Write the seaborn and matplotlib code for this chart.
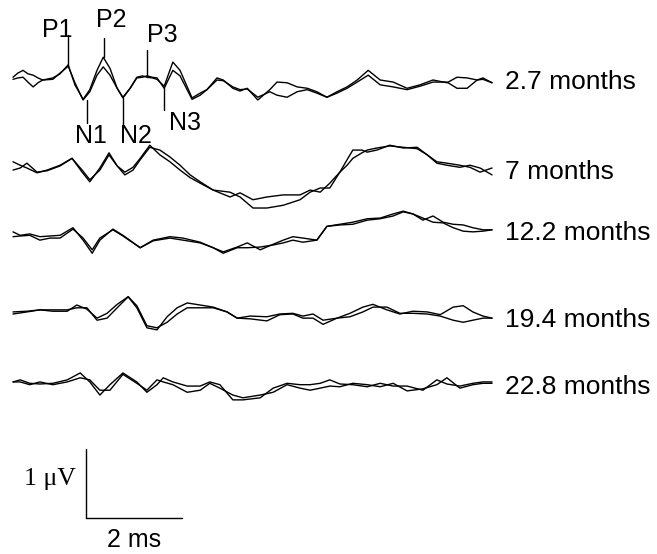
import numpy as np
import pandas as pd
import matplotlib
matplotlib.use("Agg")
import matplotlib.pyplot as plt
import seaborn as sns

# ---------------- data (time in ms, amplitude in µV) ----------------
labels = ["2.7 months", "7 months", "12.2 months", "19.4 months", "22.8 months"]

t1 = [0, 0.1, 0.21, 0.31, 0.42, 0.52, 0.62, 0.83, 0.98, 1.15, 1.29, 1.46, 1.6, 1.75, 1.88, 2.02,
      2.17, 2.29, 2.44, 2.58, 2.7, 2.79, 2.9, 3.0, 3.15, 3.33, 3.48, 3.73, 3.9, 4.04, 4.25, 4.38,
      4.58, 4.73, 4.88, 5.1, 5.35, 5.5, 5.71, 5.92, 6.13, 6.33, 6.54, 6.75, 6.96, 7.17, 7.4, 7.65,
      7.92, 8.21, 8.48, 8.75, 9.04, 9.25, 9.46, 9.67, 9.79, 9.98]
a1 = [0.04, 0.10, 0.14, 0.09, 0.07, 0.03, 0, 0.03, 0.09, 0.22, -0.07, -0.28, -0.14, 0.14, 0.33, 0.17,
      -0.12, -0.26, -0.12, 0.04, 0.06, 0.04, 0.03, 0.01, -0.09, 0.26, 0.14, -0.26, -0.19, -0.14, 0.03, 0,
      -0.12, -0.16, -0.12, -0.29, -0.14, -0.03, -0.04, -0.10, -0.12, -0.17, -0.25, -0.17, -0.10, 0, 0.14, 0,
      -0.03, -0.12, -0.07, 0, -0.04, 0.04, 0.03, 0, 0.03, -0.04]
b1 = [0.01, 0.03, 0.04, -0.03, -0.10, -0.04, 0, 0.01, 0.10, 0.20, -0.04, -0.29, -0.17, 0.07, 0.19, 0.07,
      -0.12, -0.25, -0.12, 0.03, 0.04, 0.06, 0.04, 0.03, -0.12, 0.14, 0.06, -0.28, -0.22, -0.14, 0, -0.01,
      -0.10, -0.14, -0.13, -0.25, -0.17, -0.22, -0.25, -0.17, -0.14, -0.19, -0.25, -0.19, -0.12, -0.03, 0.07, -0.07,
      -0.10, -0.14, -0.09, -0.03, -0.03, -0.12, -0.12, 0, 0.01, -0.04]

t2 = [0, 0.15, 0.29, 0.5, 0.71, 0.98, 1.23, 1.44, 1.6, 1.81, 2.0, 2.17, 2.33, 2.5, 2.65, 2.85,
      3.06, 3.27, 3.48, 3.69, 3.9, 4.17, 4.52, 4.73, 5.0, 5.29, 5.63, 5.98, 6.19, 6.4, 6.6, 6.81,
      6.96, 7.08, 7.27, 7.38, 7.58, 7.85, 8.13, 8.42, 8.63, 8.83, 9.04, 9.31, 9.52, 9.73, 9.98]
a2 = [0.09, 0.04, 0, -0.07, -0.03, 0.04, 0.14, -0.06, -0.20, 0, 0.22, 0.03, -0.06, 0.01, 0.14, 0.33,
      0.19, 0.09, -0.03, -0.14, -0.22, -0.32, -0.42, -0.36, -0.46, -0.42, -0.39, -0.39, -0.32, -0.35, -0.22, -0.06,
      0.12, 0.26, 0.26, 0.23, 0.26, 0.33, 0.29, 0.30, 0.19, 0.09, 0.07, 0.04, 0.01, -0.06, 0]
b2 = [-0.03, 0, 0.07, -0.06, -0.04, 0.03, 0.14, -0.03, -0.17, -0.03, 0.19, 0.03, -0.10, -0.03, 0.12, 0.30,
      0.26, 0.16, 0.04, -0.10, -0.20, -0.32, -0.35, -0.42, -0.58, -0.58, -0.54, -0.46, -0.35, -0.29, -0.29, -0.06,
      0.04, 0.14, 0.22, 0.26, 0.29, 0.32, 0.30, 0.28, 0.19, 0.07, 0.04, 0.01, 0.04, 0, -0.10]

t3 = [0, 0.15, 0.35, 0.56, 0.77, 0.98, 1.25, 1.46, 1.65, 1.81, 2.08, 2.29, 2.65, 2.92, 3.27, 3.54,
      3.9, 4.17, 4.38, 4.67, 4.88, 5.15, 5.42, 5.63, 5.83, 6.04, 6.33, 6.54, 6.81, 7.08, 7.38, 7.65,
      7.92, 8.13, 8.33, 8.54, 8.75, 8.96, 9.17, 9.38, 9.58, 9.79, 9.98]
a3 = [0.06, 0.01, 0.03, -0.01, 0, 0.01, 0.12, -0.06, -0.25, -0.06, 0.10, 0.01, -0.17, -0.06, -0.01, -0.03,
      -0.09, -0.17, -0.23, -0.16, -0.10, -0.20, -0.12, -0.06, -0.01, -0.03, -0.06, 0.14, 0.17, 0.20, 0.25, 0.26,
      0.32, 0.36, 0.32, 0.23, 0.29, 0.20, 0.17, 0.16, 0.12, 0.09, 0.09]
b3 = [-0.01, 0, 0.01, -0.06, -0.03, -0.03, 0.10, -0.03, -0.20, -0.03, 0.09, 0, -0.17, -0.07, -0.03, -0.06,
      -0.10, -0.17, -0.25, -0.17, -0.17, -0.16, -0.13, -0.10, -0.06, -0.09, -0.06, 0.14, 0.16, 0.17, 0.23, 0.25,
      0.29, 0.35, 0.32, 0.26, 0.20, 0.19, 0.12, 0.07, 0.06, 0.07, 0.09]

t4 = [0, 0.29, 0.56, 0.83, 1.13, 1.33, 1.54, 1.75, 1.96, 2.17, 2.4, 2.58, 2.79, 3.0, 3.21, 3.42,
      3.63, 3.9, 4.17, 4.46, 4.67, 4.94, 5.29, 5.56, 5.83, 6.04, 6.25, 6.46, 6.75, 7.02, 7.29, 7.5,
      7.79, 8.06, 8.33, 8.63, 8.9, 9.17, 9.38, 9.58, 9.79, 9.98]
a4 = [0.03, 0.04, 0.06, 0.04, 0.04, 0.13, 0.07, -0.06, 0.01, 0.14, 0.25, 0.09, -0.20, -0.23, -0.04, 0.09,
      0.16, 0.13, 0.10, 0.03, -0.06, -0.03, -0.04, 0, 0.01, -0.03, 0, -0.09, -0.06, 0.01, 0.10, 0.14,
      0.06, 0, 0.04, 0.03, -0.01, 0.10, 0.12, 0.03, -0.03, -0.06]
b4 = [0, 0.03, 0.06, 0.06, 0.06, 0.09, 0.09, -0.09, -0.06, 0.09, 0.25, 0.12, -0.17, -0.20, -0.12, 0,
      0.09, 0.09, 0.09, 0.03, -0.06, -0.07, -0.10, -0.01, 0, -0.06, -0.06, -0.15, -0.06, -0.04, 0.03, 0.10,
      0.10, 0.01, 0.01, 0, -0.03, -0.09, -0.12, -0.09, -0.06, -0.06]

t5 = [0, 0.15, 0.35, 0.56, 0.83, 1.13, 1.4, 1.6, 1.81, 2.02, 2.29, 2.58, 2.79, 3.0, 3.13, 3.33,
      3.63, 3.9, 4.1, 4.31, 4.58, 4.79, 5.15, 5.42, 5.71, 5.98, 6.19, 6.4, 6.6, 6.81, 7.08, 7.38,
      7.65, 7.92, 8.21, 8.54, 8.83, 9.04, 9.31, 9.58, 9.79, 9.98]
a5 = [0.03, 0.06, 0.01, 0, 0.01, 0.06, 0.16, 0.03, -0.16, -0.01, 0.16, 0.03, -0.12, -0.01, 0.09, 0.03,
      -0.03, -0.03, 0.03, -0.01, -0.23, -0.23, -0.20, -0.06, 0.01, -0.01, -0.01, 0.01, 0.06, 0, -0.01, -0.04,
      0.01, -0.03, -0.03, -0.09, 0.06, 0, -0.03, 0.01, 0.03, 0.03]
b5 = [0.03, 0.03, -0.01, 0.03, -0.01, 0.03, 0.09, 0.06, -0.09, -0.09, 0.14, 0.01, -0.09, 0.06, 0.03, -0.01,
      -0.12, -0.09, 0.01, -0.06, -0.16, -0.20, -0.16, -0.12, -0.01, -0.06, -0.09, -0.06, -0.03, -0.04, 0.01, -0.01,
      -0.04, 0.01, -0.10, -0.07, -0.01, 0.09, -0.06, -0.01, 0.01, 0.01]

traces = [(t1, a1, b1), (t2, a2, b2), (t3, a3, b3), (t4, a4, b4), (t5, a5, b5)]

# peak annotations
peak_names = ["P1", "P2", "P3", "N1", "N2", "N3"]
peak_times = [1.15, 1.90, 2.79, 1.54, 2.29, 3.15]

scale_ms = 2.0
scale_uv = 1.0

# ---------------- layout ----------------
PX_PER_MS = 48.0
PX_PER_UV = 69.0
offsets = [-80 / PX_PER_UV, -168 / PX_PER_UV, -236 / PX_PER_UV, -314 / PX_PER_UV, -384 / PX_PER_UV]

rows = []
for k, (t, a, b) in enumerate(traces):
    for s, vals in (("A", a), ("B", b)):
        for ti, v in zip(t, vals):
            rows.append({"trace": k, "series": s, "time": ti, "amp": v + offsets[k]})
df = pd.DataFrame(rows)

sns.set_theme(style="white")
plt.rcParams["font.family"] = ["Liberation Sans", "DejaVu Sans"]

fig = plt.figure(figsize=(6.57, 5.54), dpi=100)
ax = fig.add_axes([0, 0, 1, 1])
ax.set_xlim(-13 / PX_PER_MS, 644 / PX_PER_MS)
ax.set_ylim(-554 / PX_PER_UV, 0)
ax.axis("off")

for k in range(len(traces)):
    for s in ("A", "B"):
        sub = df[(df.trace == k) & (df.series == s)]
        sns.lineplot(data=sub, x="time", y="amp", ax=ax, color="black", lw=1.0,
                     sort=False, estimator=None, legend=False)

fs_lab = 19
fs_pk = 18
label_x = 10.24
label_y = [-82, -172, -233, -320, -387]
for lab, yy in zip(labels, label_y):
    ax.text(label_x, yy / PX_PER_UV, lab, ha="left", va="center", fontsize=fs_lab, color="black")


def ypx(p):
    return -p / PX_PER_UV


mark_spans = {"P1": (35, 65), "P2": (38, 57), "P3": (50, 77),
              "N1": (100, 123), "N2": (98, 127), "N3": (88, 110)}
text_pos = {"P1": (0.92, 30), "P2": (2.04, 20), "P3": (3.12, 35),
            "N1": (1.62, 136), "N2": (2.56, 136), "N3": (3.58, 123)}
for name, tm in zip(peak_names, peak_times):
    y0, y1 = mark_spans[name]
    ax.plot([tm, tm], [ypx(y0), ypx(y1)], color="black", lw=1.0)
    tx, ty = text_pos[name]
    ax.text(tx, ypx(ty), name, ha="center", va="center", fontsize=fs_pk, color="black")

# scale bar
sx0 = (86 - 13) / PX_PER_MS
sy0 = ypx(518)
ax.plot([sx0, sx0], [sy0, sy0 + scale_uv], color="black", lw=1.0)
ax.plot([sx0, sx0 + scale_ms], [sy0, sy0], color="black", lw=1.0)
ax.text(sx0 - 0.22, sy0 + 0.57, "1 \u03bcV", ha="right", va="center", fontsize=18.5,
        family=["Liberation Serif", "DejaVu Serif"], color="black")
ax.text(sx0 + scale_ms / 2, ypx(540), "2 ms", ha="center", va="center", fontsize=fs_pk, color="black")

fig.savefig("out.png", dpi=100)
